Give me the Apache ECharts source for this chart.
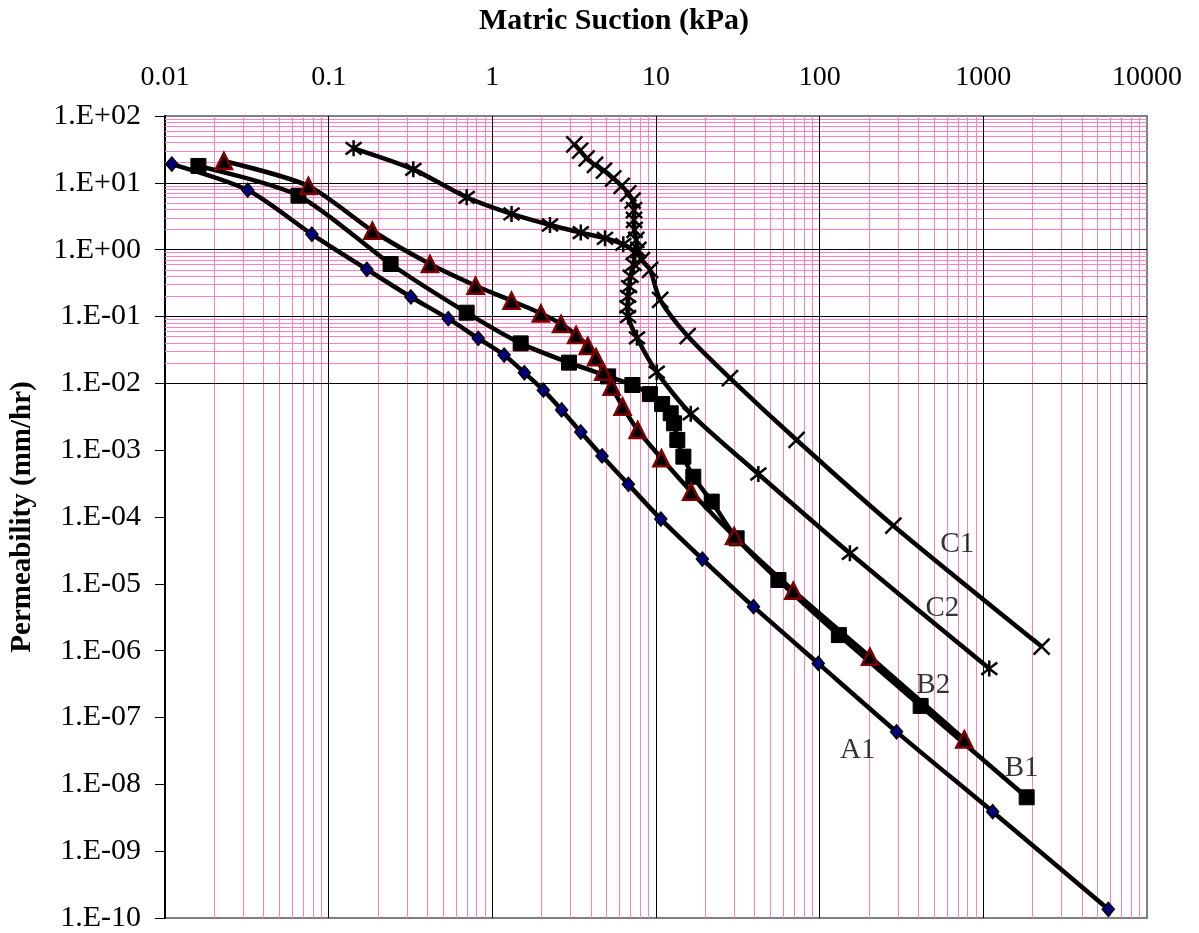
<!DOCTYPE html>
<html>
<head>
<meta charset="utf-8">
<title>Permeability vs Matric Suction</title>
<script src="https://cdn.jsdelivr.net/npm/echarts@6/dist/echarts.min.js"></script>
<style>
  html, body { margin: 0; padding: 0; background: #fff; }
  #chart { width: 1199px; height: 933px; }
</style>
</head>
<body>
<div id="chart"></div>
<script>
// Axis tick labels (one per decade)
const xTickLabels = ['0.01', '0.1', '1', '10', '100', '1000', '10000'];
const yTickLabels = ['1.E+02', '1.E+01', '1.E+00', '1.E-01', '1.E-02', '1.E-03', '1.E-04',
                     '1.E-05', '1.E-06', '1.E-07', '1.E-08', '1.E-09', '1.E-10'];

// A1: matric suction (kPa) and permeability (mm/hr)
const a1Suction = [0.011, 0.032, 0.079, 0.171, 0.318, 0.538, 0.82, 1.18, 1.57, 2.05, 2.65,
                   3.47, 4.68, 6.78, 10.7, 19.2, 39.4, 98, 295, 1140, 5800];
const a1Perm = [19.1, 7.8, 1.70, 0.508, 0.196, 0.0927, 0.0471, 0.0265, 0.0144, 0.0079, 0.0040,
                0.00187, 8.2e-4, 3.08e-4, 9.3e-5, 2.35e-5, 4.55e-6, 6.45e-7, 6.1e-8, 3.9e-9, 1.35e-10];

// B1
const b1Suction = [0.016, 0.0654, 0.239, 0.697, 1.49, 2.94, 5.1, 7.17, 9.18, 10.9, 12.3, 12.9,
                   13.5, 14.7, 16.9, 21.9, 31.1, 56, 131, 414, 1840];
const b1Perm = [17.9, 6.42, 0.61, 0.114, 0.0396, 0.0204, 0.0127, 0.00944, 0.0069, 0.0049, 0.00356,
                0.00252, 0.00142, 8.0e-4, 4.0e-4, 1.7e-4, 4.8e-5, 1.14e-5, 1.71e-6, 1.49e-7, 6.4e-9];

// B2
const b2Suction = [0.0229, 0.0752, 0.185, 0.416, 0.79, 1.31, 1.98, 2.63, 3.25, 3.83, 4.30, 4.76,
                   5.36, 6.25, 7.73, 10.8, 16.4, 30, 69, 203, 765];
const b2Perm = [21.2, 8.97, 1.92, 0.61, 0.289, 0.172, 0.111, 0.0773, 0.0528, 0.0361, 0.0245, 0.0149,
                0.0089, 0.00448, 0.0020, 7.55e-4, 2.39e-4, 5.2e-5, 7.9e-6, 8.1e-7, 4.7e-8];

// C1
const c1Suction = [3.17, 3.44, 3.77, 4.24, 4.81, 5.48, 6.17, 6.77, 7.2, 7.34, 7.34, 7.4, 7.57,
                   7.8, 8.2, 9.2, 10.6, 15.6, 28.3, 72.3, 282, 2270];
const c1Perm = [37.7, 30.3, 23.3, 18.5, 15.2, 11.7, 8.97, 6.97, 5.4, 3.92, 2.78, 1.97, 1.40,
                0.99, 0.70, 0.50, 0.177, 0.051, 0.012, 1.42e-3, 7.4e-5, 1.15e-6];

// C2
const c2Suction = [0.142, 0.329, 0.697, 1.31, 2.25, 3.47, 4.88, 6.31, 7.4, 7.3, 7.0, 6.85, 6.75,
                   6.7, 6.75, 7.65, 10.1, 16.3, 42.2, 153, 1087];
const c2Perm = [32.8, 15.9, 6.07, 3.42, 2.34, 1.80, 1.48, 1.20, 0.9, 0.6, 0.4, 0.28, 0.2,
                0.14, 0.1, 0.048, 0.0147, 0.0035, 4.4e-4, 2.86e-5, 5.4e-7];

// Curve name tags, anchored in data coordinates
const tagNames = ['A1', 'B1', 'B2', 'C1', 'C2'];
const tagSuction = [171, 1715, 494, 693, 562];
const tagPerm = [3.26e-8, 1.73e-8, 3.06e-7, 3.9e-5, 4.3e-6];

const pairs = (xs, ys) => xs.map((x, i) => [x, ys[i]]);

const serif = "'Times New Roman', 'Liberation Serif', serif";
const pink = '#ff80c0';

// Log grid: pink lines at 2..9 of each decade, black lines on decades
function minorLines(lo, hi, key) {
  const out = [];
  for (let e = lo; e < hi; e++) {
    for (let m = 2; m <= 9; m++) {
      out.push({ [key]: m * Math.pow(10, e), lineStyle: { color: pink, width: 1, type: 'solid' } });
    }
  }
  return out;
}
function majorLines(lo, hi, key) {
  const out = [];
  for (let e = lo + 1; e < hi; e++) {
    out.push({ [key]: Math.pow(10, e), lineStyle: { color: '#000', width: 1, type: 'solid' } });
  }
  return out;
}
const gridLines = minorLines(-2, 4, 'xAxis').concat(
  minorLines(-10, 2, 'yAxis'), majorLines(-2, 4, 'xAxis'), majorLines(-10, 2, 'yAxis'));

const xPath = 'path://M0,0L10,10M10,0L0,10';
const starPath = 'path://M0,0L10,10M10,0L0,10M5,-1.5L5,11.5';

function curve(name, data, symbol, size, itemStyle) {
  return {
    name, type: 'line', data, symbol, symbolSize: size,
    smooth: 0.25,
    showAllSymbol: true,
    lineStyle: { color: '#000', width: 4.5 },
    itemStyle,
    z: 3,
    animation: false
  };
}

const chart = echarts.init(document.getElementById('chart'), null, { renderer: 'canvas' });

chart.setOption({
  backgroundColor: '#fff',
  animation: false,
  grid: {
    left: 165, top: 116, width: 982, height: 802,
    show: true, borderColor: '#808080', borderWidth: 2, backgroundColor: 'transparent'
  },
  graphic: [{
    type: 'text', x: 614, y: 21,
    style: {
      text: 'Matric Suction (kPa)', font: 'bold 30px ' + serif, fill: '#000',
      align: 'center', verticalAlign: 'middle', textAlign: 'center', textVerticalAlign: 'middle'
    }
  }],
  xAxis: {
    type: 'log', logBase: 10, position: 'top',
    min: 0.01, max: 10000, interval: 1,
    axisLine: { show: false }, axisTick: { show: false },
    splitLine: { show: false }, minorSplitLine: { show: false },
    axisLabel: {
      margin: 24, fontFamily: serif, fontSize: 28, color: '#000',
      formatter: v => xTickLabels[Math.round(Math.log10(v)) + 2]
    }
  },
  yAxis: {
    type: 'log', logBase: 10,
    min: 1e-10, max: 100, interval: 1,
    name: 'Permeability (mm/hr)', nameLocation: 'middle', nameGap: 128,
    nameTextStyle: { fontFamily: serif, fontSize: 29, fontWeight: 'bold', color: '#000' },
    axisLine: { show: true, lineStyle: { color: '#000', width: 2 } },
    axisTick: { show: true, length: 10, lineStyle: { color: '#000', width: 1 } },
    splitLine: { show: false },
    axisLabel: {
      margin: 24, fontFamily: serif, fontSize: 30, color: '#000',
      formatter: v => yTickLabels[2 - Math.round(Math.log10(v))]
    }
  },
  series: [
    {
      name: 'grid', type: 'scatter', data: [], silent: true, z: 1,
      markLine: {
        silent: true, symbol: ['none', 'none'], label: { show: false }, animation: false, z: 1,
        data: gridLines
      }
    },
    curve('C1', pairs(c1Suction, c1Perm), xPath, 16,
      { color: 'none', borderColor: '#000', borderWidth: 2.5 }),
    curve('C2', pairs(c2Suction, c2Perm), starPath, 16,
      { color: 'none', borderColor: '#000', borderWidth: 2.5 }),
    curve('A1', pairs(a1Suction, a1Perm), 'diamond', [12, 14],
      { color: '#000080', borderColor: '#000', borderWidth: 1.5 }),
    curve('B1', pairs(b1Suction, b1Perm), 'rect', 15,
      { color: '#000', borderColor: '#000', borderWidth: 1 }),
    curve('B2', pairs(b2Suction, b2Perm), 'triangle', 16,
      { color: '#000', borderColor: '#800000', borderWidth: 2.5 }),
    {
      name: 'tags', type: 'scatter', symbolSize: 0, silent: true, z: 4,
      data: tagNames.map((n, i) => ({ name: n, value: [tagSuction[i], tagPerm[i]] })),
      label: {
        show: true, position: 'inside', formatter: p => p.name,
        fontFamily: serif, fontSize: 29, color: '#000'
      }
    }
  ]
});
</script>
</body>
</html>
